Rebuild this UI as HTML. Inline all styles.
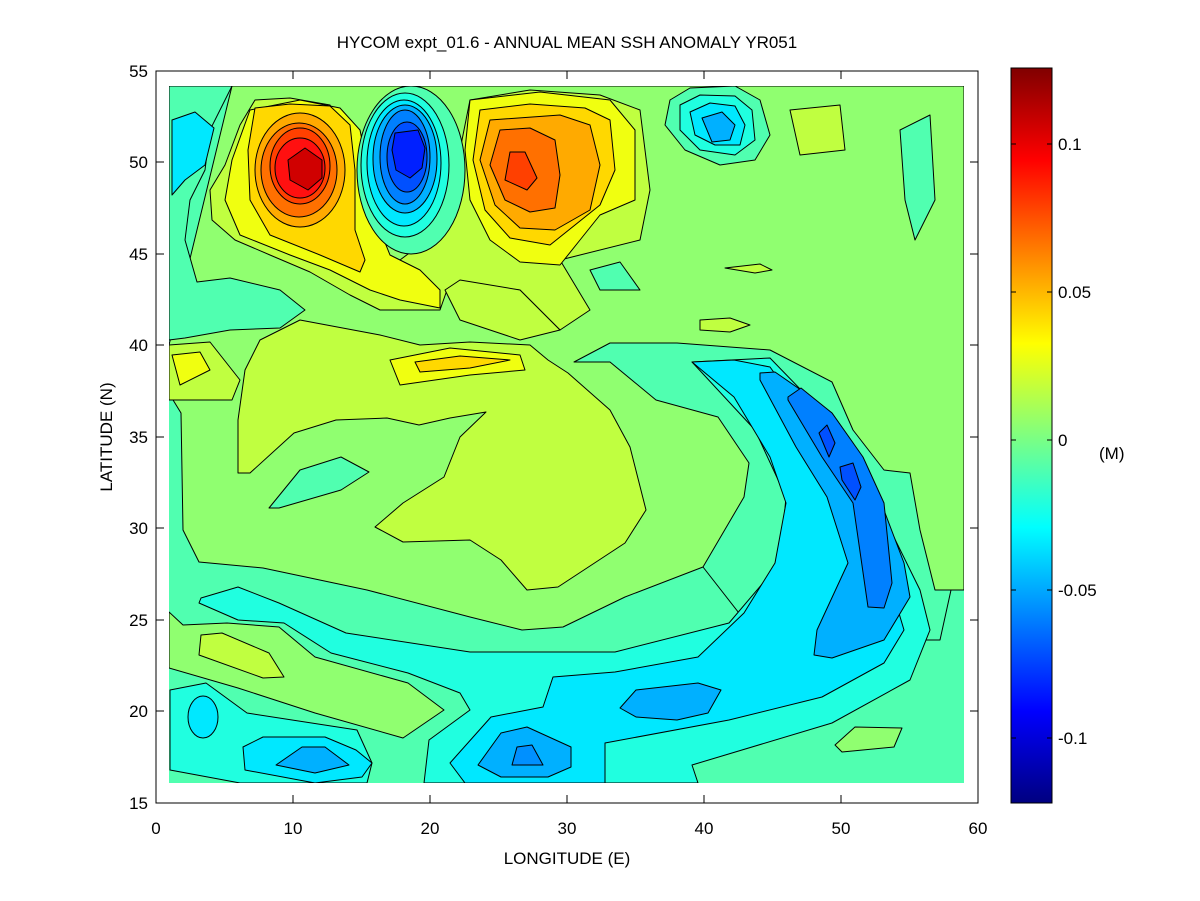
<!DOCTYPE html>
<html><head><meta charset="utf-8"><style>body{margin:0;background:#fff}svg{display:block}text{font-family:"Liberation Sans",sans-serif;font-size:17px;fill:#000}</style></head><body>
<svg width="1200" height="901" viewBox="0 0 1200 901">
<defs>
<linearGradient id="jet" x1="0" y1="1" x2="0" y2="0">
<stop offset="0" stop-color="#000080"/><stop offset="0.125" stop-color="#0000ff"/><stop offset="0.375" stop-color="#00ffff"/><stop offset="0.625" stop-color="#ffff00"/><stop offset="0.875" stop-color="#ff0000"/><stop offset="1" stop-color="#800000"/>
</linearGradient>
<clipPath id="c"><rect x="169" y="86" width="795" height="697"/></clipPath>
</defs>
<rect x="156" y="71" width="822" height="732" fill="#fff"/>
<g clip-path="url(#c)" stroke="#000" stroke-width="1" stroke-linejoin="round">
<rect x="169" y="86" width="795" height="697" fill="#50ffb0" stroke="none"/>
<polygon fill="#90ff70" points="232,86 964,86 964,590 951,590 935,590 703,567 625,597 563,627 522,630 470,617 367,590 263,568 199,562 183,530 181,413 170,395 169,345"/>
<polygon fill="#50ffb0" points="169,86 232,86 210,130 205,170 190,200 185,240 197,282 230,278 280,290 305,310 280,328 230,330 185,338 169,340"/>
<polygon fill="#00e8ff" points="172,120 195,112 214,128 205,165 185,180 172,195"/>
<polygon fill="#50ffb0" points="900,130 930,115 935,200 915,240 905,200"/>
<polygon fill="#50ffb0" points="590,270 620,262 640,290 600,290"/>
<polygon fill="#c0ff40" points="255,100 240,125 225,165 210,190 212,220 235,240 270,255 310,272 350,295 380,310 440,310 447,290 460,283 520,290 560,330 590,310 560,260 640,240 650,190 640,110 600,95 530,90 470,100 460,150 440,230 400,260 360,250 345,140 330,105 290,98"/>
<polygon fill="#f0ff10" points="250,110 232,160 225,200 240,235 290,255 330,270 370,290 400,300 440,308 440,290 420,270 390,255 380,230 370,180 360,130 340,108 300,100"/>
<polygon fill="#ffd800" points="255,108 248,150 250,200 270,235 320,255 360,272 365,260 355,230 355,170 350,125 330,106 290,104"/>
<ellipse cx="300" cy="170" rx="45" ry="57" fill="#ffaa00"/>
<ellipse cx="299" cy="170" rx="38" ry="47" fill="#ff7000"/>
<ellipse cx="300" cy="166" rx="30" ry="38" fill="#ff4000"/>
<ellipse cx="300" cy="168" rx="25" ry="30" fill="#ff1010"/>
<polygon fill="#d00000" points="305,148 322,160 322,178 308,190 290,180 288,160"/>
<polygon fill="#f0ff10" points="470,100 465,150 470,200 490,240 520,262 560,265 580,240 600,215 635,200 635,130 610,100 540,92"/>
<polygon fill="#ffd800" points="480,110 473,160 485,210 510,238 550,245 575,225 600,205 615,170 610,120 585,108 530,104"/>
<polygon fill="#ffaa00" points="490,120 480,160 495,205 520,228 555,230 590,210 600,165 590,125 560,115"/>
<polygon fill="#ff7000" points="500,130 490,165 505,200 530,212 555,208 560,175 555,140 530,128"/>
<polygon fill="#ff4000" points="510,152 525,152 537,178 527,190 505,180"/>
<ellipse cx="411" cy="170" rx="54" ry="84" fill="#50ffb0"/>
<ellipse cx="405" cy="165" rx="44" ry="72" fill="#20ffe0"/>
<ellipse cx="404" cy="163" rx="37" ry="63" fill="#00e8ff"/>
<ellipse cx="405" cy="159" rx="32" ry="54" fill="#00b0ff"/>
<ellipse cx="405" cy="157" rx="25" ry="47" fill="#0080ff"/>
<ellipse cx="407" cy="157" rx="20" ry="35" fill="#0050ff"/>
<polygon fill="#0020ff" points="395,133 418,130 425,148 422,168 410,178 396,170 392,150"/>
<polygon fill="#50ffb0" points="670,100 690,88 735,86 760,100 770,135 755,160 720,165 685,150 665,125"/>
<polygon fill="#20ffe0" points="680,105 700,95 735,96 752,110 755,140 735,155 700,150 680,130"/>
<polygon fill="#00e8ff" points="690,112 710,103 735,106 745,125 740,145 715,145 695,135"/>
<polygon fill="#00b0ff" points="702,118 722,112 735,125 730,140 712,142"/>
<polygon fill="#c0ff40" points="790,110 840,105 845,150 800,155"/>
<polygon fill="#c0ff40" points="700,320 730,318 750,325 730,332 700,330"/>
<polygon fill="#c0ff40" points="725,268 760,264 772,270 755,273"/>
<polygon fill="#c0ff40" points="169,345 210,342 240,380 232,400 169,400"/>
<polygon fill="#f0ff10" points="172,355 200,352 210,370 180,385"/>
<polygon fill="#c0ff40" points="238,473 250,473 294,433 336,420 387,418 419,425 450,418 486,412 460,437 444,477 403,503 375,527 403,542 470,540 501,560 527,590 558,587 625,543 646,510 630,447 610,410 568,373 548,360 530,345 470,342 420,345 380,335 300,320 260,340 245,370 238,420"/>
<polygon fill="#f0ff10" points="390,360 450,348 520,355 525,370 470,375 400,385"/>
<polygon fill="#ffd800" points="415,362 460,356 510,360 470,368 420,372"/>
<polygon fill="#c0ff40" points="445,290 460,280 520,290 560,330 520,340 460,320"/>
<polygon fill="#50ffb0" points="269,508 300,470 341,457 369,472 341,490 279,508"/>
<polygon fill="#50ffb0" points="574,362 610,343 677,343 770,350 832,382 853,430 884,470 910,473 920,530 935,590 951,590 940,640 760,640 703,567 744,497 749,463 718,417 656,400 610,362"/>
<polygon fill="#20ffe0" points="201,598 238,587 279,603 346,633 470,652 615,652 729,623 780,563 786,497 755,430 692,362 770,358 837,427 884,517 920,590 930,630 910,680 832,723 692,765 698,783 424,783 429,740 470,710 460,693 408,673 331,653 284,623 238,620 199,603"/>
<polygon fill="#90ff70" points="169,612 183,625 227,623 279,627 315,657 408,683 444,710 403,738 315,713 238,688 169,668"/>
<polygon fill="#c0ff40" points="201,635 222,633 269,653 284,677 263,678 199,655"/>
<polygon fill="#20ffe0" points="170,690 206,683 247,713 357,730 372,763 367,783 240,783 170,770"/>
<ellipse cx="203" cy="717" rx="15" ry="21" fill="#00e8ff"/>
<polygon fill="#00e8ff" points="243,747 263,737 325,737 356,750 372,763 362,777 315,783 245,770"/>
<polygon fill="#00b0ff" points="276,765 302,747 325,747 349,765 315,773"/>
<polygon fill="#00e8ff" points="692,362 734,360 770,367 806,417 848,480 884,563 904,630 884,663 822,697 729,720 605,743 605,783 465,783 450,763 491,717 543,707 553,677 615,672 698,657 744,613 775,563 786,503 770,457 734,397"/>
<polygon fill="#00b0ff" points="760,373 775,372 811,397 832,413 853,443 879,497 904,563 910,597 884,640 832,658 814,655 817,630 848,563 827,497 796,447 760,380"/>
<polygon fill="#0080ff" points="788,397 801,388 832,413 863,457 884,503 892,583 884,608 868,607 853,503 822,457 788,400"/>
<polygon fill="#0050ff" points="819,433 827,425 835,443 829,457"/>
<polygon fill="#0050ff" points="840,467 853,463 861,487 855,500 842,480"/>
<polygon fill="#00b0ff" points="620,708 636,690 698,683 721,690 708,713 677,720 636,717"/>
<polygon fill="#00b0ff" points="478,765 501,733 527,727 571,747 571,767 548,777 501,777"/>
<polygon fill="#0090ff" points="512,765 517,747 532,745 543,765"/>
<polygon fill="#90ff70" points="835,745 855,727 902,728 894,747 842,752"/>
</g>
<rect x="156" y="71" width="822" height="732" fill="none" stroke="#000"/>
<g stroke="#000">
<path d="M293,71v8M430,71v8M567,71v8M704,71v8M841,71v8M293,803v-8M430,803v-8M567,803v-8M704,803v-8M841,803v-8"/>
<path d="M156,162h8M156,254h8M156,345h8M156,437h8M156,528h8M156,620h8M156,711h8M978,162h-8M978,254h-8M978,345h-8M978,437h-8M978,528h-8M978,620h-8M978,711h-8"/>
</g>
<g text-anchor="middle">
<text x="156" y="834">0</text><text x="293" y="834">10</text><text x="430" y="834">20</text><text x="567" y="834">30</text><text x="704" y="834">40</text><text x="841" y="834">50</text><text x="978" y="834">60</text>
<text x="567" y="864">LONGITUDE (E)</text>
<text x="567" y="48">HYCOM expt_01.6 - ANNUAL MEAN SSH ANOMALY YR051</text>
</g>
<g text-anchor="end">
<text x="148" y="77">55</text><text x="148" y="168">50</text><text x="148" y="260">45</text><text x="148" y="351">40</text><text x="148" y="443">35</text><text x="148" y="534">30</text><text x="148" y="626">25</text><text x="148" y="717">20</text><text x="148" y="809">15</text>
</g>
<text x="112" y="437" text-anchor="middle" transform="rotate(-90 112 437)">LATITUDE (N)</text>
<rect x="1011" y="68" width="41" height="735" fill="url(#jet)" stroke="#000"/>
<g stroke="#000"><path d="M1011,144h5M1052,144h-5M1011,292h5M1052,292h-5M1011,440h5M1052,440h-5M1011,590h5M1052,590h-5M1011,738h5M1052,738h-5"/></g>
<text x="1058" y="150">0.1</text><text x="1058" y="298">0.05</text><text x="1058" y="446">0</text><text x="1058" y="596">-0.05</text><text x="1058" y="744">-0.1</text>
<text x="1099" y="459">(M)</text>
</svg>
</body></html>
